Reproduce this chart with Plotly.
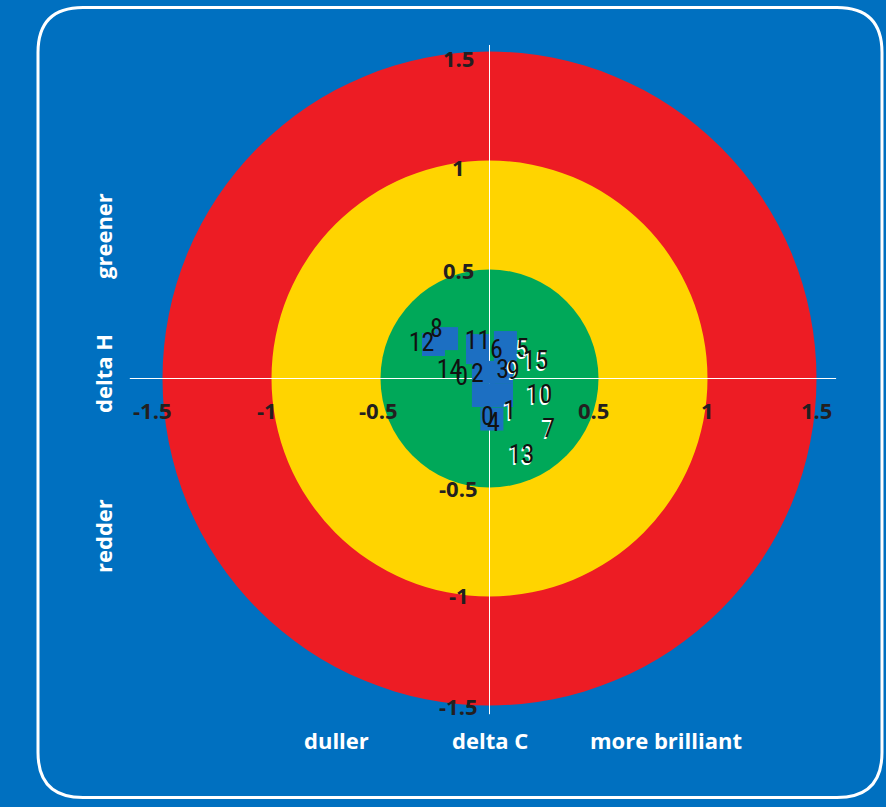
import plotly.graph_objects as go

# ---------------- data ----------------
# ring radii (tolerance zones)
ring_radii = [1.5, 1.0, 0.5]
ring_colors = ["#ED1C24", "#FFD400", "#00A859"]

# tick values and labels
tick_vals = [-1.5, -1, -0.5, 0.5, 1, 1.5]
tick_text = ["-1.5", "-1", "-0.5", "0.5", "1", "1.5"]

# sample labels and positions (delta C, delta H)
plain_labels = ["12", "8", "11", "6", "14", "0", "2", "3", "0", "4"]
plain_dc = [-0.312, -0.243, -0.055, 0.032, -0.183, -0.128, -0.055, 0.060, -0.009, 0.018]
plain_dh = [0.156, 0.220, 0.165, 0.124, 0.032, 0.000, 0.014, 0.032, -0.183, -0.211]

shadow_labels = ["5", "15", "9", "10", "1", "7", "13"]
shadow_dc = [0.151, 0.211, 0.110, 0.229, 0.092, 0.271, 0.147]
shadow_dh = [0.128, 0.073, 0.028, -0.083, -0.156, -0.239, -0.358]

# blue marker squares
marker_dc = [-0.257, -0.197, -0.055, -0.055, 0.073, 0.073, -0.028, 0.055, -0.028, 0.055, 0.011]
marker_dh = [0.156, 0.183, 0.151, 0.119, 0.165, 0.133, 0.028, 0.028, -0.078, -0.078, -0.186]

# axis extents
axis_x_extent = [-1.65, 1.59]
axis_y_extent = [-1.54, 1.53]

# ---------------- layout helpers ----------------
W, H = 886, 807
SCALE = 218.0
CX, CY = 489.5, 378.5
BG = "#0070C0"

# small pixel nudges of tick labels (style only)
x_tick_nudge = [-10, -5, -2, -5, 0, 0]
y_tick_nudge = [0, 2, 0, 0, -6, -6]

x_range = [-CX / SCALE, (W - CX) / SCALE]
y_range = [-(H - CY) / SCALE, CY / SCALE]

fig = go.Figure()

shapes = []
for r, c in zip(ring_radii, ring_colors):
    shapes.append(dict(type="circle", xref="x", yref="y", x0=-r, x1=r, y0=-r, y1=r,
                       fillcolor=c, line=dict(width=0), layer="below"))
# axis lines
shapes.append(dict(type="line", xref="x", yref="y", x0=axis_x_extent[0], x1=axis_x_extent[1],
                   y0=0, y1=0, line=dict(color="white", width=1), layer="below"))
shapes.append(dict(type="line", xref="x", yref="y", x0=0, x1=0,
                   y0=axis_y_extent[0], y1=axis_y_extent[1], line=dict(color="white", width=1), layer="below"))


# rounded frame in paper coords
def px(x):
    return x / W


def py(y):
    return 1 - y / H


L, R, T, B, RAD = 38, 882, 7.5, 797.5, 45
path = (
    f"M {px(L + RAD)},{py(T)} L {px(R - RAD)},{py(T)} "
    f"Q {px(R)},{py(T)} {px(R)},{py(T + RAD)} "
    f"L {px(R)},{py(B - RAD)} Q {px(R)},{py(B)} {px(R - RAD)},{py(B)} "
    f"L {px(L + RAD)},{py(B)} Q {px(L)},{py(B)} {px(L)},{py(B - RAD)} "
    f"L {px(L)},{py(T + RAD)} Q {px(L)},{py(T)} {px(L + RAD)},{py(T)} Z"
)
shapes.append(dict(type="path", xref="paper", yref="paper", path=path,
                   line=dict(color="white", width=3), layer="below"))

# markers
fig.add_trace(go.Scatter(x=marker_dc, y=marker_dh, mode="markers",
                         marker=dict(symbol="square", size=23, color="#1C6FC2", line=dict(width=0)),
                         hoverinfo="skip", showlegend=False))

label_font = "Liberation Sans Narrow, Roboto Condensed, Roboto, sans-serif"
fig.add_trace(go.Scatter(x=plain_dc, y=plain_dh, mode="text", text=plain_labels,
                         textposition="middle center",
                         textfont=dict(family=label_font, size=26, color="#111111"),
                         hoverinfo="skip", showlegend=False))
fig.add_trace(go.Scatter(x=shadow_dc, y=shadow_dh, mode="text", text=shadow_labels,
                         textposition="middle center",
                         textfont=dict(family=label_font, size=26, color="#111111",
                                       shadow="-1.5px 1.5px 0px #ffffff"),
                         hoverinfo="skip", showlegend=False))

annotations = []
tick_font = dict(family="Open Sans, sans-serif", size=22, color="#231F20", weight="bold")
for v, t, nx, ny in zip(tick_vals, tick_text, x_tick_nudge, y_tick_nudge):
    annotations.append(dict(x=v, y=0, xref="x", yref="y", text=t, showarrow=False,
                            xanchor="center", yanchor="middle", yshift=-31, xshift=nx, font=tick_font))
    annotations.append(dict(x=0, y=v, xref="x", yref="y", text=t, showarrow=False,
                            xanchor="center", yanchor="middle", xshift=-31, yshift=ny, font=tick_font))

title_font = dict(family="Open Sans, sans-serif", size=22, color="white", weight="bold")
for txt, xp in [("duller", 336), ("delta C", 490), ("more brilliant", 666)]:
    annotations.append(dict(x=px(xp), y=py(740), xref="paper", yref="paper", text=txt,
                            showarrow=False, xanchor="center", yanchor="middle", font=title_font))
for txt, yp in [("greener", 236), ("delta H", 374), ("redder", 536)]:
    annotations.append(dict(x=px(103), y=py(yp), xref="paper", yref="paper", text=txt,
                            showarrow=False, xanchor="center", yanchor="middle", textangle=-90,
                            font=title_font))

fig.update_layout(
    width=W, height=H, margin=dict(l=0, r=0, t=0, b=0),
    paper_bgcolor=BG, plot_bgcolor=BG,
    xaxis=dict(range=x_range, visible=False, fixedrange=True),
    yaxis=dict(range=y_range, visible=False, fixedrange=True),
    shapes=shapes, annotations=annotations, showlegend=False,
)

fig.write_html("out.html", config={"displayModeBar": False},
               post_script="document.body.style.margin='0';document.body.style.background='#0070C0';document.body.style.overflow='hidden';")
